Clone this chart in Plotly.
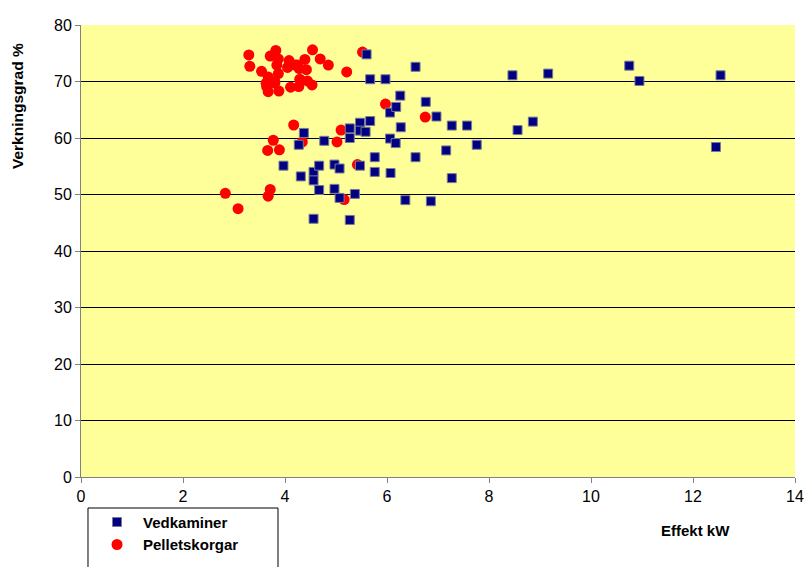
import plotly.graph_objects as go

# Vedkaminer (wood stoves): effect kW and efficiency %
ved_effekt = [4.37, 4.27, 3.97, 4.31, 4.56, 4.56, 4.67, 4.67, 4.56, 4.77,
              4.97, 5.07, 4.97, 5.07, 5.27, 5.27, 5.27, 5.37, 5.47, 5.47,
              5.58, 5.47, 5.67, 5.67, 5.60, 5.76, 5.76, 5.97, 6.06, 6.18,
              6.26, 6.06, 6.17, 6.27, 6.07, 6.36, 6.56, 6.56, 6.76, 6.86,
              6.97, 7.16, 7.27, 7.27, 7.57, 7.76, 8.46, 8.56, 8.86, 9.16,
              10.75, 10.95, 12.45, 12.54]
ved_verkn = [60.9, 58.8, 55.1, 53.2, 54.0, 52.5, 55.1, 50.8, 45.7, 59.5,
             55.3, 54.6, 51.0, 49.4, 61.7, 60.0, 45.5, 50.1, 62.7, 61.3,
             61.1, 55.1, 63.0, 70.4, 74.8, 56.6, 54.0, 70.4, 64.5, 65.5,
             67.5, 59.9, 59.1, 61.9, 53.8, 49.0, 72.6, 56.6, 66.4, 48.8,
             63.8, 57.8, 62.2, 52.9, 62.2, 58.8, 71.1, 61.4, 62.9, 71.4,
             72.8, 70.1, 58.4, 71.1]

# Pelletskorgar (pellet baskets): effect kW and efficiency %
pel_effekt = [3.29, 3.31, 3.54, 3.71, 3.82, 3.87, 4.08, 4.05, 4.24, 4.39,
              4.54, 4.69, 4.85, 5.21, 4.42, 3.67, 3.87, 3.63, 3.64, 3.67,
              3.88, 3.80, 4.11, 4.27, 4.29, 4.44, 4.53, 4.10, 4.20, 4.28,
              3.84, 3.80, 5.52, 5.97, 6.75, 4.17, 5.10, 3.77, 4.34, 5.02,
              3.66, 3.89, 5.42, 2.83, 3.08, 3.71, 3.67, 5.16]
pel_verkn = [74.7, 72.7, 71.8, 74.5, 75.5, 74.0, 73.7, 72.5, 72.9, 73.9,
             75.6, 74.0, 72.9, 71.7, 72.1, 70.8, 71.4, 69.7, 69.1, 68.2,
             68.3, 69.7, 69.0, 69.1, 70.4, 70.1, 69.4, 72.9, 72.9, 72.3,
             72.9, 70.0, 75.2, 66.0, 63.7, 62.3, 61.4, 59.6, 59.3, 59.3,
             57.8, 57.9, 55.3, 50.2, 47.5, 50.9, 49.7, 49.1]

x_ticks = [0, 2, 4, 6, 8, 10, 12, 14]
y_ticks = [0, 10, 20, 30, 40, 50, 60, 70, 80]

FONT = "Arial, Liberation Sans, sans-serif"

fig = go.Figure()
fig.add_trace(go.Scatter(
    x=pel_effekt, y=pel_verkn, mode="markers", name="Pelletskorgar",
    legendgroup="pel",
    marker=dict(symbol="circle", size=11, color="#FF0000", line=dict(width=0)),
))
fig.add_trace(go.Scatter(
    x=ved_effekt, y=ved_verkn, mode="markers", name="Vedkaminer",
    legendgroup="ved",
    marker=dict(symbol="square", size=9, color="#000080",
                line=dict(width=1, color="#7A7A9A")),
))

fig.update_layout(
    width=809, height=567,
    margin=dict(l=81, r=14, t=25, b=90, autoexpand=False),
    paper_bgcolor="white",
    plot_bgcolor="#FFFF99",
    font=dict(family=FONT, color="black"),
    showlegend=True,
    legend=dict(
        xref="container", yref="container",
        x=0.1125, y=0.108, xanchor="left", yanchor="top",
        bgcolor="rgba(0,0,0,0)", borderwidth=0,
        font=dict(size=15, family=FONT, weight="bold"),
        traceorder="reversed", tracegroupgap=8,
        itemwidth=42,
    ),
    # legend frame, running off the bottom edge of the figure
    shapes=[dict(
        type="rect", xref="paper", yref="paper",
        x0=0.0098, x1=0.2759, y0=-0.2168, y1=-0.0686,
        line=dict(color="black", width=1), fillcolor="white", layer="below",
    )],
)

fig.update_xaxes(
    range=[0, 14], tickvals=x_ticks, ticktext=[str(v) for v in x_ticks],
    showgrid=False, zeroline=False, automargin=False,
    showline=True, linecolor="#808080", linewidth=1,
    ticks="outside", ticklen=5, tickcolor="#808080",
    tickfont=dict(size=16, family=FONT), fixedrange=True,
)
fig.update_yaxes(
    range=[0, 80], tickvals=y_ticks, ticktext=[str(v) for v in y_ticks],
    showgrid=True, gridcolor="black", gridwidth=1, zeroline=False,
    automargin=False,
    showline=True, linecolor="#808080", linewidth=1,
    ticks="outside", ticklen=5, tickcolor="#808080",
    tickfont=dict(size=16, family=FONT), fixedrange=True,
)

# axis titles
fig.add_annotation(
    text="Verkningsgrad %", xref="paper", yref="paper", x=-0.0882, y=0.8208,
    xanchor="center", yanchor="middle", textangle=-90, showarrow=False,
    font=dict(size=15.5, family=FONT, weight="bold"),
)
fig.add_annotation(
    text="Effekt kW", xref="paper", yref="paper", x=0.8613, y=-0.1173,
    xanchor="center", yanchor="middle", showarrow=False,
    font=dict(size=15, family=FONT, weight="bold"),
)

fig.write_html("out.html")
